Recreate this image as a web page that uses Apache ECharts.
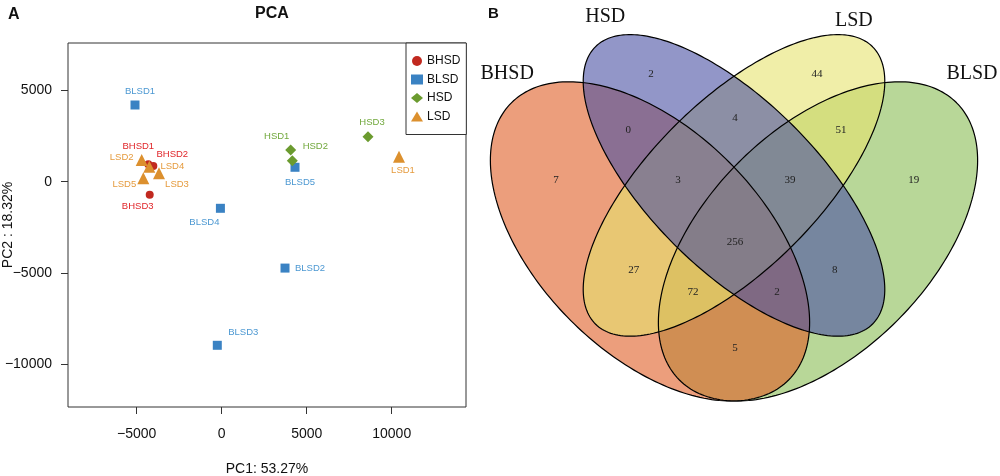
<!DOCTYPE html>
<html><head><meta charset="utf-8">
<script src="https://cdn.jsdelivr.net/npm/echarts@6/dist/echarts.min.js"></script>
<style>html,body{margin:0;padding:0;background:#fff}#c{width:1000px;height:476px}</style>
</head><body><div id="c"></div>
<script>
// ---------- DATA: PCA ----------
const groups = ['BHSD', 'BLSD', 'HSD', 'LSD'];
const bhsdNames = ['BHSD1', 'BHSD2', 'BHSD3'];
const bhsdPC1 = [-4317, -4023, -4235];
const bhsdPC2 = [953, 860, -712];
const blsdNames = ['BLSD1', 'BLSD2', 'BLSD3', 'BLSD4', 'BLSD5'];
const blsdPC1 = [-5100, 3724, -259, -76, 4312];
const blsdPC2 = [4200, -4731, -8959, -1457, 789];
const hsdNames = ['HSD1', 'HSD2', 'HSD3'];
const hsdPC1 = [4059, 4153, 8606];
const hsdPC2 = [1736, 1150, 2464];
const lsdNames = ['LSD1', 'LSD2', 'LSD3', 'LSD4', 'LSD5'];
const lsdPC1 = [10429, -4706, -3688, -4259, -4612];
const lsdPC2 = [1369, 1188, 460, 821, 186];
const xTicks = [-5000, 0, 5000, 10000];
const yTicks = [-10000, -5000, 0, 5000];
const pcaTitle = 'PCA';
const xName = 'PC1: 53.27%';
const yName = 'PC2 : 18.32%';

// ---------- DATA: Venn ----------
const vennSets = ['BHSD', 'HSD', 'LSD', 'BLSD'];
const vennRegionKeys = ['BHSD', 'HSD', 'LSD', 'BLSD', 'BHSD&HSD', 'HSD&LSD', 'LSD&BLSD',
  'BHSD&HSD&LSD', 'HSD&LSD&BLSD', 'ALL', 'BHSD&LSD', 'HSD&BLSD', 'BHSD&LSD&BLSD', 'BHSD&HSD&BLSD', 'BHSD&BLSD'];
const vennCounts = [7, 2, 44, 19, 0, 4, 51, 3, 39, 256, 27, 8, 72, 2, 5];

// ---------- STYLE / LAYOUT ----------
const markerColor = { BHSD: '#c1291f', BLSD: '#3a82c3', HSD: '#6b9b2f', LSD: '#dc902e' };
const labelColor = { BHSD: '#e0262a', BLSD: '#4c98d2', HSD: '#71a83c', LSD: '#e59b3e' };
const symbolOf = { BHSD: 'circle', BLSD: 'rect', HSD: 'diamond', LSD: 'triangle' };
const sizeOf = { BHSD: 8, BLSD: 9, HSD: 11, LSD: 12 };
const labelOffset = {
  BLSD1: [5, -14], BLSD2: [25, 0], BLSD3: [26, -13], BLSD4: [-16, 14], BLSD5: [5, 15],
  HSD1: [-14, -14], HSD2: [23, -14], HSD3: [4, -14],
  LSD1: [4, 14], LSD2: [-20, -3], LSD3: [18, 11], LSD4: [23, 0], LSD5: [-19, 6],
  BHSD1: [-10, -18], BHSD2: [19, -12], BHSD3: [-12, 12]
};
// Venn ellipse geometry (unit square, y up), and label anchor layout
const ellipseGeom = {
  BHSD: { cx: 0.35, cy: 0.47, a: 0.35, b: 0.20, rot: 135, fill: 'rgba(223,93,37,0.6)' },
  HSD: { cx: 0.50, cy: 0.57, a: 0.35, b: 0.15, rot: 135, fill: 'rgba(73,80,163,0.6)' },
  LSD: { cx: 0.50, cy: 0.57, a: 0.35, b: 0.15, rot: 45, fill: 'rgba(230,227,110,0.6)' },
  BLSD: { cx: 0.65, cy: 0.47, a: 0.35, b: 0.20, rot: 45, fill: 'rgba(137,188,83,0.6)' }
};
const drawOrder = ['BLSD', 'BHSD', 'LSD', 'HSD'];
const regionAnchor = {
  'BHSD': [0.182, 0.58], 'HSD': [0.352, 0.769], 'LSD': [0.648, 0.769], 'BLSD': [0.821, 0.58],
  'BHSD&HSD': [0.311, 0.669], 'HSD&LSD': [0.502, 0.69], 'LSD&BLSD': [0.691, 0.669],
  'BHSD&HSD&LSD': [0.40, 0.58], 'HSD&LSD&BLSD': [0.60, 0.58], 'ALL': [0.502, 0.469],
  'BHSD&LSD': [0.321, 0.419], 'HSD&BLSD': [0.680, 0.419], 'BHSD&LSD&BLSD': [0.427, 0.38],
  'BHSD&HSD&BLSD': [0.577, 0.38], 'BHSD&BLSD': [0.502, 0.28]
};
const setNameAnchor = { BHSD: [0.095, 0.769], HSD: [0.27, 0.871], LSD: [0.714, 0.864], BLSD: [0.925, 0.769] };

const SANS = '"Liberation Sans", Arial, Helvetica, sans-serif';
const SERIF = '"Liberation Serif", "Times New Roman", serif';
const minus = v => String(v).replace('-', '\u2212');

function makeSeries(g, names, xs, ys) {
  return {
    name: g, type: 'scatter', xAxisIndex: 0, yAxisIndex: 0,
    symbol: symbolOf[g], symbolSize: sizeOf[g],
    itemStyle: { color: markerColor[g], opacity: 1 },
    label: { show: true, position: 'inside', formatter: '{b}', color: labelColor[g], fontSize: 9.5, fontFamily: SANS },
    emphasis: { disabled: true },
    data: names.map((n, i) => ({ name: n, value: [xs[i], ys[i]], label: { offset: labelOffset[n] } }))
  };
}

function ellipsePoints(api, e) {
  const pts = [], th = e.rot * Math.PI / 180;
  for (let i = 0; i <= 240; i++) {
    const t = i / 240 * 2 * Math.PI;
    const x = e.cx + e.a * Math.cos(t) * Math.cos(th) - e.b * Math.sin(t) * Math.sin(th);
    const y = e.cy + e.a * Math.cos(t) * Math.sin(th) + e.b * Math.sin(t) * Math.cos(th);
    pts.push(api.coord([x, y]));
  }
  return pts;
}

const chart = echarts.init(document.getElementById('c'), null, { renderer: 'canvas' });
chart.setOption({
  backgroundColor: '#fff',
  animation: false,
  textStyle: { fontFamily: SANS },
  title: { text: pcaTitle, left: 267, top: 1, textAlign: 'center',
    textStyle: { fontSize: 16, fontWeight: 'bold', color: '#111', fontFamily: SANS } },
  legend: {
    orient: 'vertical', left: 406, top: 43, width: 61,
    padding: [12, 6, 12, 5], itemGap: 6.5, itemWidth: 12, itemHeight: 10,
    backgroundColor: '#fff', borderColor: '#333', borderWidth: 1,
    textStyle: { fontSize: 12, color: '#111', fontFamily: SANS, padding: [0, 0, 0, -1] },
    data: groups.map(g => ({ name: g, icon: symbolOf[g] }))
  },
  grid: [
    { left: 68, top: 43, width: 398, height: 364, show: true, borderColor: '#333', borderWidth: 1,
      backgroundColor: 'transparent', containLabel: false, outerBoundsMode: 'none' },
    { left: 454, right: 0, top: 0.6, height: 448, show: false, containLabel: false, outerBoundsMode: 'none' }
  ],
  xAxis: [
    { gridIndex: 0, type: 'value', min: -9041, max: 14370, position: 'bottom',
      splitLine: { show: false }, axisLine: { show: false, onZero: false },
      axisTick: { show: true, length: 7, lineStyle: { color: '#333' }, customValues: xTicks },
      axisLabel: { fontSize: 14, color: '#111', margin: 20, customValues: xTicks, formatter: minus },
      name: xName, nameLocation: 'middle', nameGap: 55, nameMoveOverlap: false,
      nameTextStyle: { fontSize: 14, color: '#111', fontFamily: SANS } },
    { gridIndex: 1, type: 'value', min: 0, max: 0.975, show: false }
  ],
  yAxis: [
    { gridIndex: 0, type: 'value', min: -12338, max: 7595, position: 'left',
      splitLine: { show: false }, axisLine: { show: false, onZero: false },
      axisTick: { show: true, length: 7, lineStyle: { color: '#333' }, customValues: yTicks },
      axisLabel: { fontSize: 14, color: '#111', margin: 16, customValues: yTicks, formatter: minus },
      name: yName, nameLocation: 'middle', nameGap: 53, nameMoveOverlap: false,
      nameTextStyle: { fontSize: 14, color: '#111', fontFamily: SANS } },
    { gridIndex: 1, type: 'value', min: 0.1, max: 0.9, show: false }
  ],
  graphic: [
    { type: 'text', left: 8, top: 7, style: { text: 'A', font: 'bold 16px ' + SANS, fill: '#111' } },
    { type: 'text', left: 488, top: 6, style: { text: 'B', font: 'bold 15px ' + SANS, fill: '#111' } }
  ],
  series: [
    makeSeries('BHSD', bhsdNames, bhsdPC1, bhsdPC2),
    makeSeries('BLSD', blsdNames, blsdPC1, blsdPC2),
    makeSeries('HSD', hsdNames, hsdPC1, hsdPC2),
    makeSeries('LSD', lsdNames, lsdPC1, lsdPC2),
    { // Venn fills
      type: 'custom', coordinateSystem: 'cartesian2d', xAxisIndex: 1, yAxisIndex: 1, silent: true, clip: false,
      data: drawOrder.map(s => [ellipseGeom[s].cx, ellipseGeom[s].cy]),
      renderItem: (params, api) => {
        const e = ellipseGeom[drawOrder[params.dataIndex]];
        return { type: 'polygon', shape: { points: ellipsePoints(api, e) }, style: { fill: e.fill, stroke: null } };
      }
    },
    { // Venn outlines
      type: 'custom', coordinateSystem: 'cartesian2d', xAxisIndex: 1, yAxisIndex: 1, silent: true, clip: false,
      data: drawOrder.map(s => [ellipseGeom[s].cx, ellipseGeom[s].cy]),
      renderItem: (params, api) => {
        const e = ellipseGeom[drawOrder[params.dataIndex]];
        return { type: 'polygon', shape: { points: ellipsePoints(api, e) }, style: { fill: null, stroke: '#000', lineWidth: 1.2 } };
      }
    },
    { // Venn counts
      type: 'custom', coordinateSystem: 'cartesian2d', xAxisIndex: 1, yAxisIndex: 1, silent: true, clip: false,
      data: vennRegionKeys.map((k, i) => [regionAnchor[k][0], regionAnchor[k][1], vennCounts[i]]),
      renderItem: (params, api) => {
        const p = api.coord([api.value(0), api.value(1)]);
        return { type: 'text', x: p[0], y: p[1],
          style: { text: String(vennCounts[params.dataIndex]), font: '11px ' + SERIF, fill: '#222', align: 'center', verticalAlign: 'middle' } };
      }
    },
    { // Venn set names
      type: 'custom', coordinateSystem: 'cartesian2d', xAxisIndex: 1, yAxisIndex: 1, silent: true, clip: false,
      data: vennSets.map(s => [setNameAnchor[s][0], setNameAnchor[s][1]]),
      renderItem: (params, api) => {
        const p = api.coord([api.value(0), api.value(1)]);
        return { type: 'text', x: p[0], y: p[1],
          style: { text: vennSets[params.dataIndex], font: '20px ' + SERIF, fill: '#111', align: 'center', verticalAlign: 'middle' } };
      }
    }
  ]
});
</script>
</body></html>
